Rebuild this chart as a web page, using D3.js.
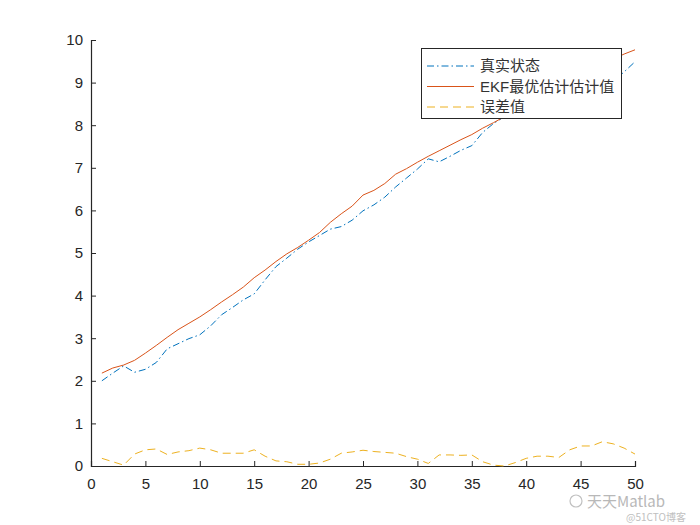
<!DOCTYPE html>
<html>
<head>
<meta charset="utf-8">
<script src="https://cdn.jsdelivr.net/npm/d3@7"></script>
<style>
  html, body { margin: 0; padding: 0; background: #fff; }
  svg { display: block; }
</style>
</head>
<body>
<svg id="chart" width="700" height="525"></svg>
<script>
// ---------- data ----------
const steps = d3.range(1, 51);
const trueState = [2.00, 2.18, 2.35, 2.20, 2.27, 2.43, 2.75, 2.87, 2.99, 3.08,
                   3.29, 3.55, 3.72, 3.90, 4.04, 4.37, 4.68, 4.88, 5.09, 5.26,
                   5.41, 5.56, 5.62, 5.77, 5.99, 6.13, 6.31, 6.55, 6.76, 6.97,
                   7.21, 7.14, 7.27, 7.41, 7.52, 7.83, 8.04, 8.20, 8.27, 8.32,
                   8.42, 8.57, 8.75, 8.70, 8.73, 8.86, 8.85, 9.03, 9.25, 9.49];
const ekfEstimate = [2.18, 2.30, 2.37, 2.48, 2.65, 2.83, 3.02, 3.20, 3.35, 3.50,
                     3.67, 3.85, 4.02, 4.20, 4.42, 4.60, 4.80, 4.98, 5.13, 5.30,
                     5.48, 5.72, 5.92, 6.10, 6.36, 6.47, 6.63, 6.85, 6.98, 7.13,
                     7.27, 7.40, 7.53, 7.66, 7.78, 7.93, 8.06, 8.20, 8.35, 8.50,
                     8.65, 8.80, 8.95, 9.08, 9.20, 9.33, 9.42, 9.55, 9.67, 9.77];
const errorValue = [0.18, 0.10, 0.02, 0.28, 0.38, 0.40, 0.27, 0.33, 0.36, 0.42,
                    0.38, 0.30, 0.30, 0.30, 0.38, 0.23, 0.12, 0.10, 0.04, 0.04,
                    0.07, 0.16, 0.30, 0.33, 0.37, 0.34, 0.32, 0.30, 0.22, 0.16,
                    0.06, 0.26, 0.26, 0.25, 0.26, 0.10, 0.02, 0.00, 0.08, 0.18,
                    0.23, 0.23, 0.20, 0.38, 0.47, 0.47, 0.57, 0.52, 0.42, 0.28];
const xTicks = [0, 5, 10, 15, 20, 25, 30, 35, 40, 45, 50];
const yTicks = [0, 1, 2, 3, 4, 5, 6, 7, 8, 9, 10];
const seriesNames = ["真实状态", "EKF最优估计估计值", "误差值"];
const watermark = ["天天Matlab", "@51CTO博客"];

// ---------- layout ----------
const svg = d3.select("#chart");
const plotLeft = 91, plotRight = 635, plotTop = 40, plotBottom = 466;
const x = d3.scaleLinear().domain([0, 50]).range([plotLeft, plotRight]);
const y = d3.scaleLinear().domain([0, 10]).range([plotBottom, plotTop]);
const axisColor = "#262626";
const fontFam = "'Liberation Sans', Arial, Helvetica, sans-serif";

svg.append("rect").attr("width", 700).attr("height", 525).attr("fill", "#fff");

// axes
const xAxis = svg.append("g").attr("transform", `translate(0,${plotBottom})`)
  .call(d3.axisBottom(x).tickValues(xTicks).tickSize(-5).tickPadding(12).tickFormat(d3.format("d")));
const yAxis = svg.append("g").attr("transform", `translate(${plotLeft},0)`)
  .call(d3.axisLeft(y).tickValues(yTicks).tickSize(-5).tickPadding(8).tickFormat(d3.format("d")));
[xAxis, yAxis].forEach(g => {
  g.select(".domain").attr("stroke", axisColor).attr("stroke-width", 1.2);
  g.selectAll(".tick line").attr("stroke", axisColor).attr("stroke-width", 1);
  g.selectAll(".tick text").attr("fill", axisColor).attr("font-size", 15).attr("font-family", fontFam);
});

// lines
const series = [
  { name: seriesNames[0], values: trueState, color: "#0072BD", dash: "7,3,1.5,3" },
  { name: seriesNames[1], values: ekfEstimate, color: "#D95319", dash: null },
  { name: seriesNames[2], values: errorValue, color: "#EDB120", dash: "8,5" }
];
const line = d3.line().x((d, i) => x(steps[i])).y(d => y(d));
series.forEach(s => {
  svg.append("path").datum(s.values)
    .attr("d", line)
    .attr("fill", "none")
    .attr("stroke", s.color)
    .attr("stroke-width", 1)
    .attr("stroke-dasharray", s.dash);
});

// legend
const lg = svg.append("g");
lg.append("rect").attr("x", 421.5).attr("y", 48.5).attr("width", 200).attr("height", 70)
  .attr("fill", "#fff").attr("stroke", axisColor).attr("stroke-width", 1);
const rowY = [66, 86.5, 107];
series.forEach((s, i) => {
  lg.append("line").attr("x1", 427).attr("x2", 474).attr("y1", rowY[i]).attr("y2", rowY[i])
    .attr("stroke", s.color).attr("stroke-width", 1).attr("stroke-dasharray", s.dash);
  lg.append("text").attr("x", 480).attr("y", rowY[i]).attr("dy", "0.35em")
    .attr("font-size", 15).attr("fill", "#333")
    .attr("font-family", "'Liberation Sans', 'Noto Sans CJK SC', sans-serif")
    .text(s.name);
});

// watermark
svg.append("circle").attr("cx", 576).attr("cy", 501).attr("r", 6)
  .attr("fill", "none").attr("stroke", "#c0c0c0").attr("stroke-width", 1.2);
svg.append("text").attr("x", 587).attr("y", 507).attr("font-size", 15)
  .attr("fill", "#b8b8b8").attr("font-family", "'Noto Sans CJK SC', sans-serif").text(watermark[0]);
svg.append("text").attr("x", 626).attr("y", 521).attr("font-size", 10)
  .attr("fill", "#c0c0c0").attr("font-family", "'Noto Sans CJK SC', sans-serif").text(watermark[1]);
</script>
</body>
</html>
